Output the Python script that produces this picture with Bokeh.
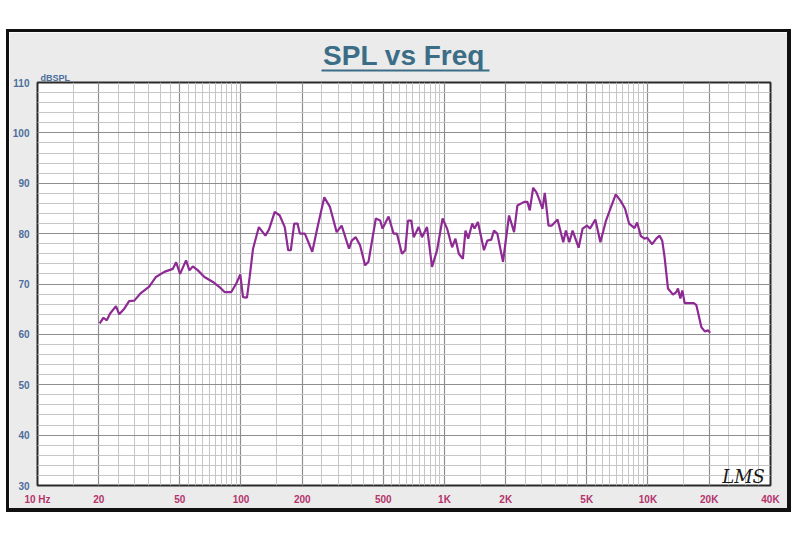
from bokeh.plotting import figure
from bokeh.models import FixedTicker, Label, Range1d, Title, LogAxis
from bokeh.embed import file_html
from bokeh.resources import INLINE

# ---- data ----
freq_hz = [20.2, 21.1, 21.9, 22.7, 24.3, 25.2, 26.7, 28.2, 29.9, 32.2, 35.4, 38.2,
           42.0, 46.2, 48.0, 50.2, 53.7, 55.8, 58.0, 61.4, 66.1, 72.8, 78.4, 83.0,
           89.6, 94.8, 99.2, 102.3, 107.0, 110.3, 114.6, 122.4, 131.8, 137.2, 146.5,
           155.0, 164.1, 170.6, 175.7, 182.6, 189.6, 194.6, 206.0, 224.0, 239.9,
           256.7, 273.6, 295.2, 312.4, 339.5, 350.1, 366.4, 384.7, 407.2, 423.1,
           459.8, 482.9, 496.2, 531.2, 562.3, 583.8, 617.8, 641.4, 661.4, 686.7,
           705.6, 746.8, 775.3, 820.6, 868.6, 919.3, 978.6, 1030, 1090, 1132, 1176,
           1231, 1268, 1308, 1369, 1405, 1460, 1563, 1623, 1698, 1751, 1818, 1939,
           2076, 2198, 2282, 2463, 2556, 2624, 2727, 2831, 2939, 3030, 3111, 3244,
           3369, 3594, 3834, 3950, 4105, 4262, 4561, 4773, 5012, 5186, 5513, 5836,
           6220, 6584, 6944, 7308, 7709, 8076, 8587, 8844, 9225, 9621, 9899, 10490,
           10980, 11410, 11750, 12070, 12540, 13270, 13780, 14040, 14420, 14750,
           15150, 15910, 16790, 17290, 18300, 19020, 19750, 20200]
spl_db = [62.2, 63.3, 62.8, 64.1, 65.6, 64.0, 65.1, 66.6, 66.7, 68.2, 69.5, 71.4,
          72.4, 73.0, 74.3, 72.0, 74.7, 72.7, 73.5, 72.7, 71.4, 70.4, 69.4, 68.4,
          68.4, 70.1, 71.9, 67.4, 67.3, 71.4, 77.0, 81.3, 79.6, 80.8, 84.3,
          83.6, 81.3, 76.7, 76.7, 82.0, 82.0, 80.0, 80.0, 76.4, 82.0,
          87.2, 85.3, 80.3, 81.6, 77.0, 78.6, 79.3, 77.7, 73.7, 74.4,
          83.0, 82.6, 81.0, 83.4, 80.0, 80.0, 76.0, 76.7, 82.6, 82.6,
          79.3, 81.3, 79.3, 81.3, 73.4, 76.7, 83.0, 81.0, 77.3, 79.0, 76.0,
          75.0, 80.6, 79.0, 82.0, 81.0, 82.3, 76.7, 78.6, 78.8, 80.6, 80.0, 74.4,
          83.6, 80.3, 85.6, 86.3, 86.3, 84.6, 89.1, 88.2, 86.5, 84.9, 88.1, 81.6,
          81.6, 82.8, 78.3, 80.6, 78.3, 80.6, 77.2, 81.0, 81.6, 81.0, 82.8, 78.3,
          82.6, 85.3, 87.8, 86.6, 85.0, 82.0, 81.1, 82.2, 79.5, 79.0, 79.2, 77.9,
          79.0, 79.6, 78.6, 75.3, 69.1, 67.9, 68.4, 69.1, 67.1, 68.7,
          66.2, 66.2, 66.2, 65.8, 61.4, 60.6, 60.8, 60.3]

x_tick_values = [10, 20, 50, 100, 200, 500, 1000, 2000, 5000, 10000, 20000, 40000]
x_tick_labels = ["10 Hz", "20", "50", "100", "200", "500", "1K", "2K", "5K",
                 "10K", "20K", "40K"]
y_tick_values = [30, 40, 50, 60, 70, 80, 90, 100, 110]
y_tick_labels = ["30", "40", "50", "60", "70", "80", "90", "100", "110"]

# grid helpers (every half-step inside each decade, every 2 dB)
x_minor = []
for d in [10, 100, 1000, 10000]:
    for k in range(3, 21):
        v = d * k / 2
        if v <= 40000:
            x_minor.append(v)
y_minor = list(range(30, 111, 2))

TITLE_COLOR = "#3b6d86"

p = figure(x_axis_type="log", output_backend="svg", toolbar_location=None,
           title=None,
           frame_width=733, frame_height=403,
           min_border_left=28, min_border_right=17, min_border_top=50, min_border_bottom=23,
           x_range=Range1d(10, 40000), y_range=Range1d(30, 110),
           background_fill_color="white", border_fill_color="#ebebeb",
           margin=(29, 0, 0, 6),
           styles={"border-style": "solid", "border-color": "#111111",
                   "border-width": "3px 4px 4px 3px"})

p.outline_line_color = "#2b2b2b"
p.outline_line_width = 2

p.xaxis.ticker = FixedTicker(ticks=x_tick_values, minor_ticks=x_minor)
p.yaxis.ticker = FixedTicker(ticks=y_tick_values, minor_ticks=y_minor)
p.xaxis.major_label_overrides = {v: s for v, s in zip(x_tick_values, x_tick_labels)}
p.yaxis.major_label_overrides = {v: s for v, s in zip(y_tick_values, y_tick_labels)}

for ax in (p.xaxis[0], p.yaxis[0]):
    ax.axis_line_color = None
    ax.major_tick_line_color = None
    ax.minor_tick_line_color = None
    ax.major_tick_out = 0
    ax.major_tick_in = 0
    ax.major_label_text_font = "Liberation Sans"
    ax.major_label_text_font_style = "bold"
    ax.major_label_text_font_size = "10px"
    ax.major_label_standoff = 4

p.xaxis.major_label_text_color = "#b5336b"
p.yaxis.major_label_text_color = "#4d6e9c"

p.xgrid.grid_line_color = "#8e8e8e"
p.xgrid.minor_grid_line_color = "#c6c6c6"
p.ygrid.grid_line_color = "#8e8e8e"
p.ygrid.minor_grid_line_color = "#c6c6c6"
p.xgrid.grid_line_width = 1.2
p.ygrid.grid_line_width = 1.2

p.line(freq_hz, spl_db, line_color="#8e2a94", line_width=2.2)

# stacked above the frame: unit label, underline, main title
unit_title = Title(text="dBSPL", align="left", offset=3, standoff=0,
                   text_font="Liberation Sans", text_font_size="9px",
                   text_font_style="bold", text_color="#4d6e9c")
p.add_layout(unit_title, "above")

underline = LogAxis(ticker=FixedTicker(ticks=[]), bounds=(249, 1660),
                    axis_line_color=TITLE_COLOR, axis_line_width=2,
                    major_tick_line_color=None, minor_tick_line_color=None,
                    major_tick_out=0, minor_tick_out=0, major_tick_in=0, minor_tick_in=0,
                    major_label_standoff=0, major_label_text_font_size="0px")
p.add_layout(underline, "above")

main_title = Title(text="SPL vs Freq", align="center", standoff=0,
                   text_font="Liberation Sans", text_font_size="28px",
                   text_font_style="bold", text_color=TITLE_COLOR)
p.add_layout(main_title, "above")

p.add_layout(Label(x=29500, y=31.8, text="LMS", text_align="center",
                   text_baseline="alphabetic", text_font="DejaVu Serif",
                   text_font_size="18px", text_font_style="italic", text_color="#1a1a1a"))

open("out.html", "w").write(file_html(p, INLINE))
